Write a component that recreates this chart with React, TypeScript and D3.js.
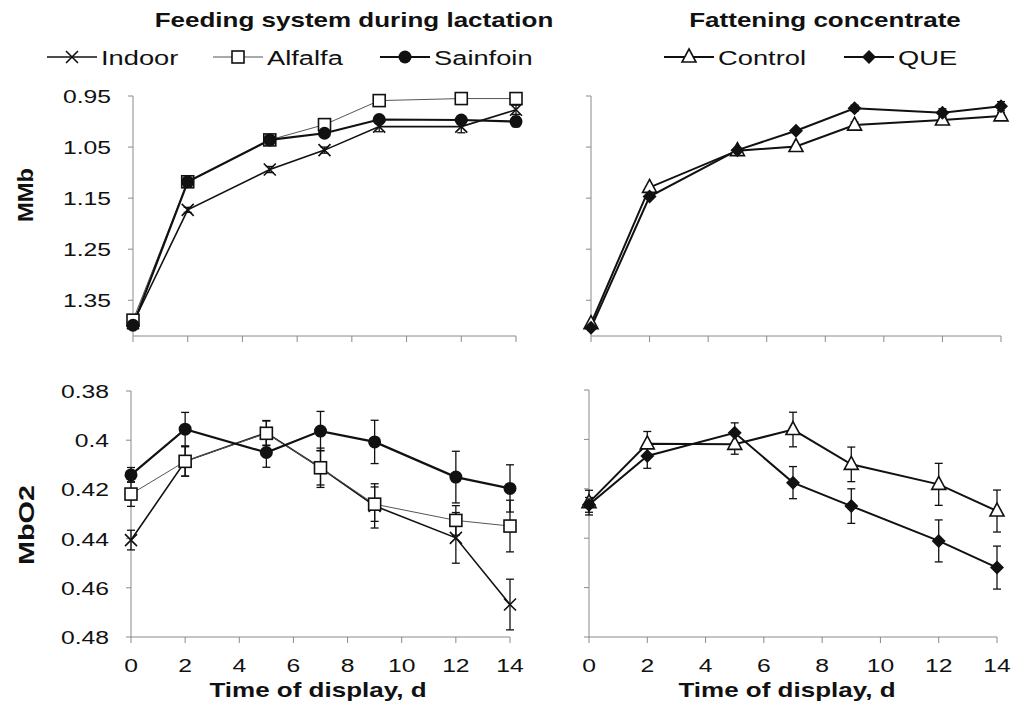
import React from 'react';
import * as d3 from 'd3';

// days of display (x values shared by every series)
const days = [0, 2, 5, 7, 9, 12, 14];
const xTicks = [0, 2, 4, 6, 8, 10, 12, 14];

// MMb (reversed axis) - feeding system during lactation
const mmbIndoor = [1.395, 1.173, 1.094, 1.056, 1.01, 1.01, 0.977];
const mmbIndoorErr = [0, 0.005, 0.006, 0.006, 0.01, 0.012, 0.009];
const mmbAlfalfa = [1.389, 1.118, 1.036, 1.006, 0.959, 0.955, 0.955];
const mmbAlfalfaErr = [0, 0, 0, 0.004, 0.005, 0.004, 0.004];
const mmbSainfoin = [1.399, 1.118, 1.036, 1.023, 0.996, 0.997, 1.0];
const mmbSainfoinErr = [0, 0, 0, 0.004, 0.006, 0.006, 0.01];

// MMb - fattening concentrate
const mmbControl = [1.396, 1.129, 1.057, 1.049, 1.007, 0.997, 0.989];
const mmbControlErr = [0, 0, 0, 0, 0.006, 0.006, 0.006];
const mmbQue = [1.404, 1.147, 1.056, 1.018, 0.974, 0.983, 0.97];
const mmbQueErr = [0, 0, 0, 0, 0.006, 0.008, 0.009];

// MbO2 - feeding system during lactation
const mbIndoor = [0.4406, 0.4086, 0.397, 0.4112, 0.4267, 0.4397, 0.4668];
const mbIndoorErr = [0.004, 0.006, 0.005, 0.008, 0.009, 0.0103, 0.0103];
const mbAlfalfa = [0.4219, 0.4086, 0.3972, 0.4112, 0.426, 0.4326, 0.4349];
const mbAlfalfaErr = [0.005, 0.006, 0.005, 0.007, 0.007, 0.006, 0.0105];
const mbSainfoin = [0.4141, 0.3955, 0.405, 0.3963, 0.4007, 0.415, 0.4196];
const mbSainfoinErr = [0.003, 0.0068, 0.006, 0.008, 0.0088, 0.0105, 0.0096];

// MbO2 - fattening concentrate
const mbControl = [0.4256, 0.4018, 0.402, 0.396, 0.4101, 0.4182, 0.429];
const mbControlErr = [0.005, 0.005, 0.004, 0.007, 0.007, 0.0085, 0.0085];
const mbQue = [0.4265, 0.4067, 0.3973, 0.4175, 0.427, 0.4411, 0.4519];
const mbQueErr = [0.003, 0.005, 0.004, 0.0065, 0.007, 0.0085, 0.0087];

const mmbTicks = [0.95, 1.05, 1.15, 1.25, 1.35];
const mmbTickLabels = ['0.95', '1.05', '1.15', '1.25', '1.35'];
const mbTicks = [0.38, 0.4, 0.42, 0.44, 0.46, 0.48];
const mbTickLabels = ['0.38', '0.4', '0.42', '0.44', '0.46', '0.48'];

const FONT = '"Liberation Sans", Arial, sans-serif';
const SX = 1.3; // the original text is stretched horizontally

type MarkerType = 'x' | 'square' | 'circle' | 'triangle' | 'diamond';

const Txt = ({ x, y, size, bold, anchor = 'start', children }: any) => (
  <text
    transform={`translate(${x},${y}) scale(${SX},1)`}
    fontSize={size}
    fontWeight={bold ? 'bold' : 'normal'}
    textAnchor={anchor}
    fontFamily={FONT}
    fill="#111"
  >
    {children}
  </text>
);

// rotated y-axis title
const YTitle = ({ x, y, len, children }: any) => (
  <text
    transform={`translate(${x},${y}) rotate(-90)`}
    fontSize={22}
    fontWeight="bold"
    textAnchor="middle"
    fontFamily={FONT}
    fill="#111"
    textLength={len}
    lengthAdjust="spacingAndGlyphs"
  >
    {children}
  </text>
);

const Marker = ({ type, x, y }: { type: MarkerType; x: number; y: number }) => {
  if (type === 'x')
    return (
      <path d={`M${x - 6},${y - 6}L${x + 6},${y + 6}M${x - 6},${y + 6}L${x + 6},${y - 6}`} stroke="#111" strokeWidth={1.6} />
    );
  if (type === 'square')
    return <rect x={x - 6} y={y - 6} width={12} height={12} fill="#fff" stroke="#111" strokeWidth={1.6} />;
  if (type === 'circle') return <circle cx={x} cy={y} r={6.5} fill="#111" />;
  if (type === 'triangle')
    return <path d={`M${x},${y - 8}L${x + 7},${y + 5}L${x - 7},${y + 5}Z`} fill="#fff" stroke="#111" strokeWidth={1.6} />;
  return <path d={`M${x},${y - 7}L${x + 7},${y}L${x},${y + 7}L${x - 7},${y}Z`} fill="#111" />;
};

interface Series {
  values: number[];
  errs: number[];
  marker: MarkerType;
  stroke: string;
  width: number;
}

interface PanelProps {
  xRange: [number, number];
  yDomain: [number, number];
  yRange: [number, number];
  ticks: number[];
  tickLabels: string[] | null;
  showX: boolean;
  series: Series[];
}

const Panel = ({ xRange, yDomain, yRange, ticks, tickLabels, showX, series }: PanelProps) => {
  const x = d3.scaleLinear().domain([0, 14]).range(xRange);
  const y = d3.scaleLinear().domain(yDomain).range(yRange);
  const line = d3
    .line<number>()
    .x((_, i) => x(days[i]))
    .y(d => y(d));
  const axisColor = '#8a8a8a';
  const y0 = yRange[1];
  return (
    <g>
      {/* y axis */}
      <line x1={x(0)} x2={x(0)} y1={y(ticks[0])} y2={y0} stroke={axisColor} strokeWidth={1} />
      {ticks.map((t, i) => (
        <g key={'yt' + i}>
          <line x1={x(0) - 5} x2={x(0)} y1={y(t)} y2={y(t)} stroke={axisColor} />
          {tickLabels && (
            <Txt x={x(0) - 22} y={y(t) + 7} size={19} anchor="end">
              {tickLabels[i]}
            </Txt>
          )}
        </g>
      ))}
      {/* x axis */}
      <line x1={x(0)} x2={x(14)} y1={y0} y2={y0} stroke={axisColor} strokeWidth={1} />
      {xTicks.map(t => (
        <g key={'xt' + t}>
          <line x1={x(t)} x2={x(t)} y1={y0} y2={y0 + 6} stroke={axisColor} />
          {showX && (
            <Txt x={x(t)} y={y0 + 35} size={19} anchor="middle">
              {t}
            </Txt>
          )}
        </g>
      ))}
      {/* series */}
      {series.map((s, si) => (
        <g key={'s' + si}>
          <path d={line(s.values) || ''} fill="none" stroke={s.stroke} strokeWidth={s.width} />
          {s.values.map((v, i) =>
            s.errs[i] > 0 ? (
              <g key={'e' + i} stroke="#111" strokeWidth={1.3}>
                <line x1={x(days[i])} x2={x(days[i])} y1={y(v - s.errs[i])} y2={y(v + s.errs[i])} />
                <line x1={x(days[i]) - 4} x2={x(days[i]) + 4} y1={y(v - s.errs[i])} y2={y(v - s.errs[i])} />
                <line x1={x(days[i]) - 4} x2={x(days[i]) + 4} y1={y(v + s.errs[i])} y2={y(v + s.errs[i])} />
              </g>
            ) : null
          )}
        </g>
      ))}
      {series.map((s, si) => (
        <g key={'m' + si}>
          {s.values.map((v, i) => (
            <Marker key={i} type={s.marker} x={x(days[i])} y={y(v)} />
          ))}
        </g>
      ))}
    </g>
  );
};

const LegendItem = ({ x, y, marker, label, stroke, width }: any) => (
  <g>
    <line x1={x} x2={x + 50} y1={y} y2={y} stroke={stroke} strokeWidth={width} />
    <Marker type={marker} x={x + 25} y={y} />
    <Txt x={x + 54} y={y + 8} size={21}>
      {label}
    </Txt>
  </g>
);

export default function App() {
  const lactation = (vals: number[][], errs: number[][]): Series[] => [
    { values: vals[0], errs: errs[0], marker: 'x', stroke: '#111', width: 1.6 },
    { values: vals[1], errs: errs[1], marker: 'square', stroke: '#555', width: 1 },
    { values: vals[2], errs: errs[2], marker: 'circle', stroke: '#111', width: 2.2 },
  ];
  const fattening = (vals: number[][], errs: number[][]): Series[] => [
    { values: vals[0], errs: errs[0], marker: 'triangle', stroke: '#111', width: 2 },
    { values: vals[1], errs: errs[1], marker: 'diamond', stroke: '#111', width: 2 },
  ];
  return (
    <div style={{ position: 'absolute', left: 0, top: 0 }}>
      <svg width={1012} height={713} style={{ display: 'block', background: '#fff' }}>
        <Txt x={354} y={27} size={20} bold anchor="middle">
          Feeding system during lactation
        </Txt>
        <Txt x={825} y={27} size={20} bold anchor="middle">
          Fattening concentrate
        </Txt>
        <LegendItem x={47} y={57} marker="x" label="Indoor" stroke="#111" width={1.5} />
        <LegendItem x={213} y={57} marker="square" label="Alfalfa" stroke="#555" width={1} />
        <LegendItem x={380} y={57} marker="circle" label="Sainfoin" stroke="#111" width={2} />
        <LegendItem x={664} y={57} marker="triangle" label="Control" stroke="#111" width={2} />
        <LegendItem x={844} y={57} marker="diamond" label="QUE" stroke="#111" width={2} />

        <YTitle x={33} y={195} len={54}>
          MMb
        </YTitle>
        <YTitle x={34} y={525} len={80}>
          MbO2
        </YTitle>

        <Panel
          xRange={[133, 516]}
          yDomain={[0.95, 1.42]}
          yRange={[96, 336]}
          ticks={mmbTicks}
          tickLabels={mmbTickLabels}
          showX={false}
          series={lactation([mmbIndoor, mmbAlfalfa, mmbSainfoin], [mmbIndoorErr, mmbAlfalfaErr, mmbSainfoinErr])}
        />
        <Panel
          xRange={[591, 1001]}
          yDomain={[0.95, 1.42]}
          yRange={[96, 336]}
          ticks={mmbTicks}
          tickLabels={null}
          showX={false}
          series={fattening([mmbControl, mmbQue], [mmbControlErr, mmbQueErr])}
        />
        <Panel
          xRange={[131, 510]}
          yDomain={[0.38, 0.48]}
          yRange={[391, 637]}
          ticks={mbTicks}
          tickLabels={mbTickLabels}
          showX={true}
          series={lactation([mbIndoor, mbAlfalfa, mbSainfoin], [mbIndoorErr, mbAlfalfaErr, mbSainfoinErr])}
        />
        <Panel
          xRange={[589, 997]}
          yDomain={[0.38, 0.48]}
          yRange={[390, 637]}
          ticks={mbTicks}
          tickLabels={null}
          showX={true}
          series={fattening([mbControl, mbQue], [mbControlErr, mbQueErr])}
        />

        <Txt x={318} y={697} size={20} bold anchor="middle">
          Time of display, d
        </Txt>
        <Txt x={787} y={697} size={20} bold anchor="middle">
          Time of display, d
        </Txt>
      </svg>
    </div>
  );
}
